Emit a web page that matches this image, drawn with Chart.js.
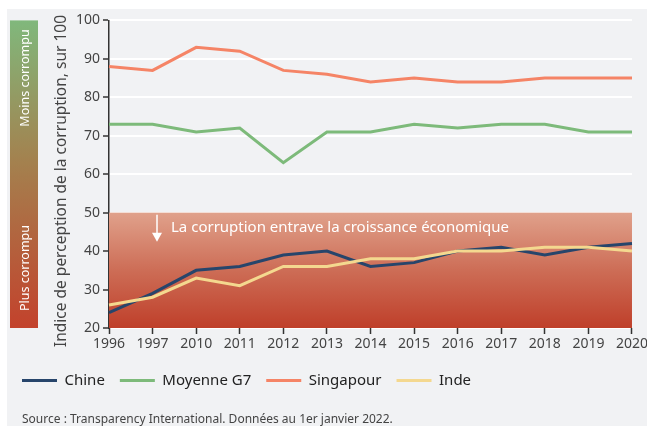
<!DOCTYPE html>
<html>
<head>
<meta charset="utf-8">
<script src="https://cdn.jsdelivr.net/npm/chart.js@4"></script>
<style>
  html, body { margin: 0; padding: 0; background: #fff; overflow: hidden; }
  #wrap { position: absolute; left: 7px; top: 9px; width: 640px; height: 417px; background: #f1f2f4; overflow: hidden; }
  #cpiChart { display: block; }
</style>
</head>
<body>
<div id="wrap"><canvas id="cpiChart" width="643" height="417"></canvas></div>
<script>
const years = ['1996', '1997', '2010', '2011', '2012', '2013', '2014', '2015', '2016', '2017', '2018', '2019', '2020'];
const chine = [24, 29, 35, 36, 39, 40, 36, 37, 40, 41, 39, 41, 42];
const moyenneG7 = [73, 73, 71, 72, 63, 71, 71, 73, 72, 73, 73, 71, 71];
const singapour = [88, 87, 93, 92, 87, 86, 84, 85, 84, 84, 85, 85, 85];
const inde = [26, 28, 33, 31, 36, 36, 38, 38, 40, 40, 41, 41, 40];
const yMin = 20, yMax = 100, yStep = 10;
const zoneTop = 50;

const FONT = "'Noto Sans', sans-serif";
Chart.defaults.font.family = FONT;

const decor = {
    id: 'decor',
    beforeDatasetsDraw(chart) {
        const { ctx, chartArea: a, scales: { y } } = chart;
        const top = y.getPixelForValue(zoneTop);
        const bot = y.getPixelForValue(yMin);
        ctx.save();
        const g = ctx.createLinearGradient(0, top, 0, bot);
        g.addColorStop(0, '#e0a18b');
        g.addColorStop(0.5, '#cd6d56');
        g.addColorStop(1, '#bf3f2a');
        ctx.fillStyle = g;
        ctx.fillRect(a.left, top, a.right - a.left, bot - top);

        // arrow + note
        const ax = a.left + 48;
        ctx.strokeStyle = '#fff';
        ctx.fillStyle = '#fff';
        ctx.lineWidth = 1.5;
        ctx.beginPath();
        ctx.moveTo(ax, top + 2);
        ctx.lineTo(ax, top + 24);
        ctx.stroke();
        ctx.beginPath();
        ctx.moveTo(ax - 5, top + 20);
        ctx.lineTo(ax + 5, top + 20);
        ctx.lineTo(ax, top + 29);
        ctx.closePath();
        ctx.fill();
        ctx.font = '15px ' + FONT;
        ctx.textAlign = 'left';
        ctx.textBaseline = 'middle';
        ctx.fillText('La corruption entrave la croissance économique', a.left + 62, top + 15);
        ctx.restore();
    },
    afterDraw(chart) {
        const { ctx, chartArea: a } = chart;
        ctx.save();
        // side gradient bar
        const g = ctx.createLinearGradient(0, a.top, 0, a.bottom);
        g.addColorStop(0, '#80b87c');
        g.addColorStop(0.45, '#a3824f');
        g.addColorStop(1, '#c3422c');
        ctx.fillStyle = g;
        ctx.fillRect(3, a.top, 28, a.bottom - a.top);

        ctx.fillStyle = '#fff';
        ctx.font = '12.5px ' + FONT;
        ctx.textAlign = 'center';
        ctx.textBaseline = 'middle';
        ctx.translate(18, 0);
        ctx.rotate(-Math.PI / 2);
        ctx.fillText('Moins corrompu', -69, 0);
        ctx.fillText('Plus corrompu', -259, 0);
        ctx.restore();

        // y axis title
        ctx.save();
        ctx.fillStyle = '#444';
        ctx.font = '15.5px ' + FONT;
        ctx.textAlign = 'center';
        ctx.textBaseline = 'middle';
        ctx.translate(55, 172);
        ctx.rotate(-Math.PI / 2);
        ctx.fillText('Indice de perception de la corruption, sur 100', 0, 0);
        ctx.restore();

        // source
        ctx.save();
        ctx.fillStyle = '#444';
        ctx.font = '12px ' + FONT;
        ctx.textAlign = 'left';
        ctx.textBaseline = 'middle';
        ctx.fillText('Source : Transparency International. Données au 1er janvier 2022.', 15, 411);
        ctx.restore();
    }
};

const line = (label, data, color, order) => ({
    label, data, order,
    borderColor: color,
    backgroundColor: color,
    borderWidth: 3,
    pointRadius: 0,
    pointStyle: 'line',
    tension: 0
});

new Chart(document.getElementById('cpiChart'), {
    type: 'line',
    data: {
        labels: years,
        datasets: [
            line('Chine', chine, '#27456b', 1),
            line('Moyenne G7', moyenneG7, '#7dba7a', 2),
            line('Singapour', singapour, '#f58466', 3),
            line('Inde', inde, '#f4d88f', 0)
        ]
    },
    options: {
        responsive: false,
        animation: false,
        layout: { padding: { left: 0, right: 16, top: 10, bottom: 28 } },
        plugins: {
            legend: {
                position: 'bottom',
                align: 'start',
                labels: {
                    usePointStyle: true,
                    pointStyleWidth: 35,
                    padding: 15,
                    color: '#222',
                    font: { size: 15 },
                    sort: (a, b) => a.datasetIndex - b.datasetIndex
                }
            },
            tooltip: { enabled: false }
        },
        scales: {
            y: {
                min: yMin,
                max: yMax,
                afterFit(scale) { scale.width = 102; },
                ticks: { stepSize: yStep, color: '#444', padding: 3, font: { size: 14 } },
                grid: { color: '#fff', lineWidth: 2, tickColor: '#333', tickLength: 6, tickWidth: 1.5 },
                border: { color: '#333', width: 1.5 }
            },
            x: {
                afterFit(scale) { scale.height = 30; },
                ticks: { color: '#444', padding: 2, maxRotation: 0, autoSkip: false, font: { size: 14 } },
                grid: { drawOnChartArea: false, tickColor: '#333', tickLength: 6, tickWidth: 1.5 },
                border: { display: false }
            }
        }
    },
    plugins: [decor]
});
</script>
</body>
</html>
